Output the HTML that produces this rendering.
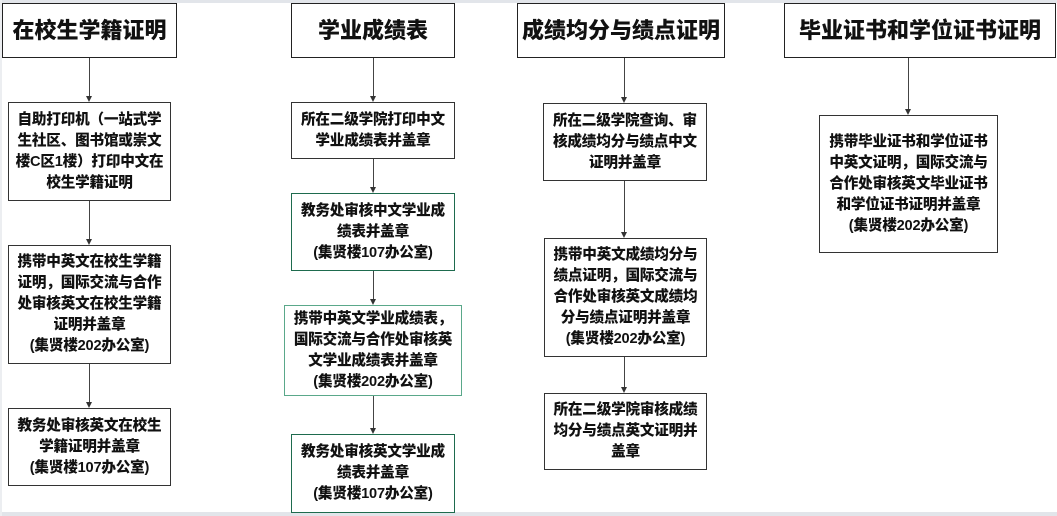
<!DOCTYPE html>
<html><head><meta charset="utf-8"><style>
body{margin:0;width:1057px;height:516px;background:#fff;position:relative;overflow:hidden;font-family:"Liberation Sans","Noto Sans CJK SC",sans-serif;}
.b{position:absolute;box-sizing:border-box;border:1px solid #333;background:#fff;display:flex;align-items:center;justify-content:center;text-align:center;font-weight:900;font-size:14.6px;line-height:21px;color:#111;padding:0 2px;white-space:nowrap;letter-spacing:-0.2px;}
.t{font-size:22px;line-height:24px;border-color:#222;letter-spacing:0;}
.g{border-color:#1e6b4e;}
.lg{border-color:#5aa88a;}
.v{position:absolute;width:1px;background:#444;}
.h{position:absolute;width:0;height:0;border-left:3.5px solid transparent;border-right:3.5px solid transparent;border-top:6px solid #333;}
</style></head><body>
<div style="position:absolute;left:0;top:0;width:1057px;height:3px;background:#e2e5ea"></div>
<div style="position:absolute;left:0;top:512px;width:1057px;height:4px;background:#e2e5ea"></div>
<div style="position:absolute;left:0;top:0;width:2px;height:516px;background:#eceef1"></div>

<!-- col1 -->
<div class="b t" style="left:2px;top:3px;width:175px;height:55px">在校生学籍证明</div>
<div class="b" style="left:8px;top:102px;width:163px;height:99px">自助打印机（一站式学<br>生社区、图书馆或崇文<br>楼C区1楼）打印中文在<br>校生学籍证明</div>
<div class="b" style="left:8px;top:245px;width:163px;height:119px">携带中英文在校生学籍<br>证明，国际交流与合作<br>处审核英文在校生学籍<br>证明并盖章<br>(集贤楼202办公室)</div>
<div class="b" style="left:8px;top:408px;width:163px;height:78px">教务处审核英文在校生<br>学籍证明并盖章<br>(集贤楼107办公室)</div>
<div class="v" style="left:89px;top:58px;height:38px"></div><div class="h" style="left:86px;top:96px"></div>
<div class="v" style="left:89px;top:201px;height:38px"></div><div class="h" style="left:86px;top:239px"></div>
<div class="v" style="left:89px;top:364px;height:38px"></div><div class="h" style="left:86px;top:402px"></div>

<!-- col2 -->
<div class="b t" style="left:291px;top:3px;width:164px;height:55px">学业成绩表</div>
<div class="b" style="left:291px;top:102px;width:164px;height:57px">所在二级学院打印中文<br>学业成绩表并盖章</div>
<div class="b g" style="left:291px;top:193px;width:164px;height:78px">教务处审核中文学业成<br>绩表并盖章<br>(集贤楼107办公室)</div>
<div class="b lg" style="left:284px;top:305px;width:178px;height:91px">携带中英文学业成绩表，<br>国际交流与合作处审核英<br>文学业成绩表并盖章<br>(集贤楼202办公室)</div>
<div class="b g" style="left:291px;top:434px;width:164px;height:79px">教务处审核英文学业成<br>绩表并盖章<br>(集贤楼107办公室)</div>
<div class="v" style="left:373px;top:58px;height:38px"></div><div class="h" style="left:370px;top:96px"></div>
<div class="v" style="left:373px;top:159px;height:28px"></div><div class="h" style="left:370px;top:187px"></div>
<div class="v" style="left:373px;top:271px;height:28px"></div><div class="h" style="left:370px;top:299px"></div>
<div class="v" style="left:373px;top:396px;height:32px"></div><div class="h" style="left:370px;top:428px"></div>

<!-- col3 -->
<div class="b t" style="left:517px;top:3px;width:208px;height:55px">成绩均分与绩点证明</div>
<div class="b" style="left:543px;top:103px;width:164px;height:78px">所在二级学院查询、审<br>核成绩均分与绩点中文<br>证明并盖章</div>
<div class="b" style="left:544px;top:238px;width:163px;height:119px">携带中英文成绩均分与<br>绩点证明，国际交流与<br>合作处审核英文成绩均<br>分与绩点证明并盖章<br>(集贤楼202办公室)</div>
<div class="b" style="left:544px;top:393px;width:163px;height:77px">所在二级学院审核成绩<br>均分与绩点英文证明并<br>盖章</div>
<div class="v" style="left:624px;top:58px;height:39px"></div><div class="h" style="left:621px;top:97px"></div>
<div class="v" style="left:624px;top:181px;height:51px"></div><div class="h" style="left:621px;top:232px"></div>
<div class="v" style="left:624px;top:357px;height:30px"></div><div class="h" style="left:621px;top:387px"></div>

<!-- col4 -->
<div class="b t" style="left:784px;top:3px;width:272px;height:55px">毕业证书和学位证书证明</div>
<div class="b" style="left:819px;top:115px;width:179px;height:138px">携带毕业证书和学位证书<br>中英文证明，国际交流与<br>合作处审核英文毕业证书<br>和学位证书证明并盖章<br>(集贤楼202办公室)</div>
<div class="v" style="left:908px;top:58px;height:51px"></div><div class="h" style="left:905px;top:109px"></div>
</body></html>
